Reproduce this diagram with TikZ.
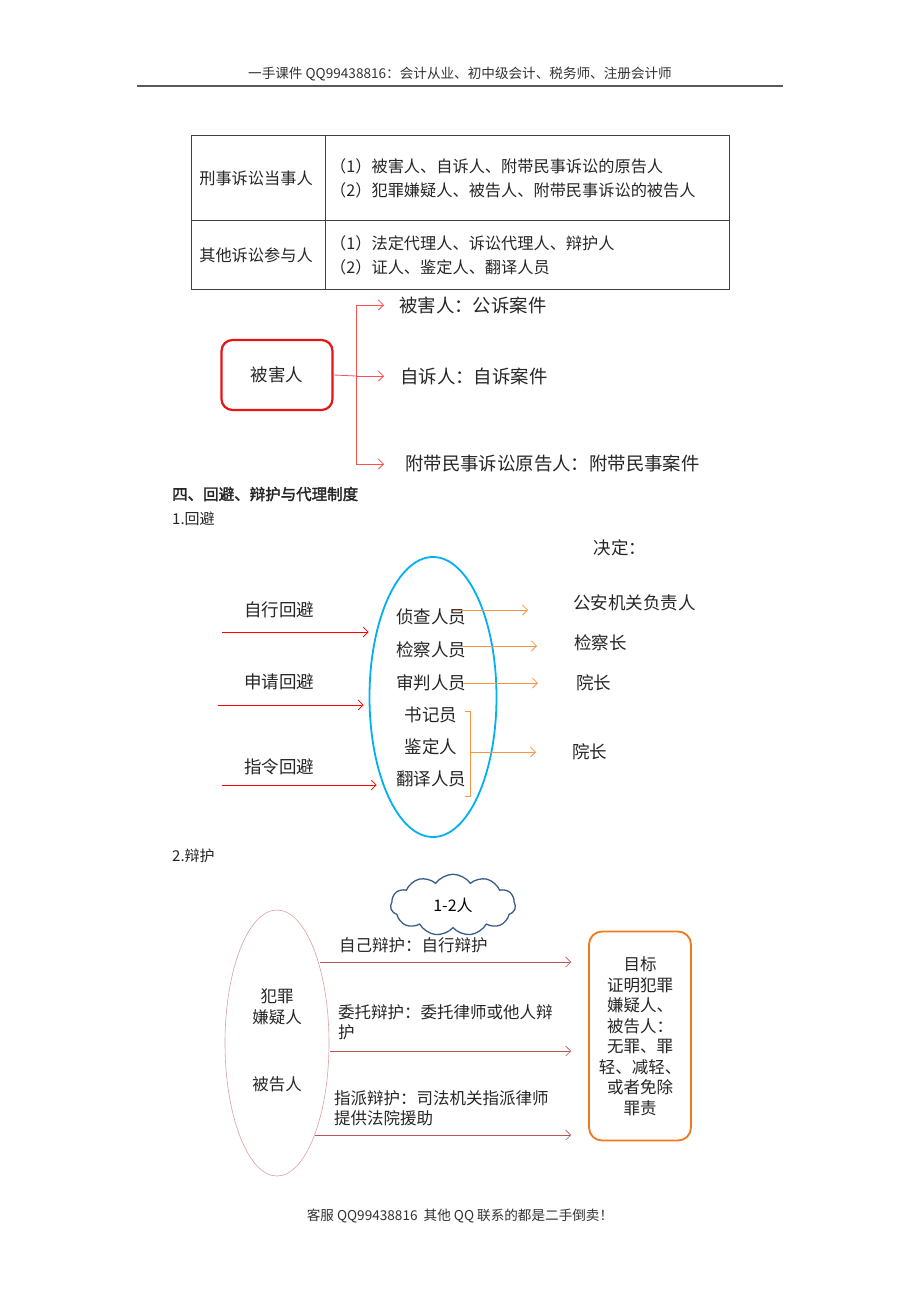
\documentclass[tikz,border=0pt]{standalone}
\usepackage{fontspec}
\setmainfont{Noto Sans CJK SC}[AutoFakeBold=2]
\usetikzlibrary{positioning,arrows.meta,shapes.geometric,shapes.symbols}
\definecolor{vred}{RGB}{230,20,20}
\definecolor{lred}{RGB}{250,80,80}
\definecolor{oline}{RGB}{247,150,70}
\definecolor{skyb}{RGB}{0,176,240}
\definecolor{cloudb}{RGB}{56,93,138}
\definecolor{pinkl}{RGB}{220,160,160}
\definecolor{brred}{RGB}{185,85,85}
\definecolor{boxor}{RGB}{240,120,30}

\begin{document}
\begin{tikzpicture}[x=1pt, y=-1pt, inner sep=0pt,
    >={Straight Barb[length=5pt,width=10pt]},
    txt/.style = {font=\fontsize{17.5}{21}\selectfont, text=black!85},
    vtxt/.style = {font=\fontsize{18.4}{22}\selectfont, text=black!85, anchor=west},
    tab/.style = {font=\fontsize{16.2}{19}\selectfont, text=black!85, anchor=west},
    small/.style = {font=\fontsize{13.6}{16}\selectfont, text=black!80},
    dtxt/.style = {font=\fontsize{16.5}{20.5}\selectfont, text=black!85, anchor=west, align=left},
    varr/.style = {draw=lred, line width=0.8pt, ->},
    larr/.style = {draw=red, line width=0.7pt, ->},
    oarr/.style = {draw=oline, line width=0.8pt, ->},
    darr/.style = {draw=brred, line width=0.6pt, ->}]
    \useasboundingbox[fill=white] (0,0) rectangle (920,1302);

    % header and footer
    \node[small] (hdr) at (460,74) {一手课件 QQ99438816：会计从业、初中级会计、税务师、注册会计师};
    \draw[line width=1.3pt, black!65] (137,86) -- (783,86);
    \node[small] (ftr) at (460,1216) {客服 QQ99438816 \ 其他 QQ 联系的都是二手倒卖！};

    % table
    \draw[black!75, line width=0.6pt] (191,135) rectangle (729,289);
    \draw[black!75, line width=0.6pt] (325,135) -- (325,289);
    \draw[black!75, line width=0.6pt] (191,220) -- (729,220);
    \node[tab, anchor=center] (c11) at (256,178) {刑事诉讼当事人};
    \node[tab, anchor=center] (c21) at (256,255) {其他诉讼参与人};
    \node[tab] (c12a) at (330,166) {（1）被害人、自诉人、附带民事诉讼的原告人};
    \node[tab] (c12b) at (330,190) {（2）犯罪嫌疑人、被告人、附带民事诉讼的被告人};
    \node[tab] (c22a) at (330,243) {（1）法定代理人、诉讼代理人、辩护人};
    \node[tab] (c22b) at (330,267) {（2）证人、鉴定人、翻译人员};

    % victim
    \node[txt, draw=vred, line width=2.2pt, rounded corners=11pt,
        minimum width=111pt, minimum height=70pt] (vic) at (277,375) {被害人};
    \coordinate (vj) at (356,376);
    \node[vtxt] (v1) at (399,305) {被害人：公诉案件};
    \node[vtxt] (v2) at (400,376) {自诉人：自诉案件};
    \node[vtxt] (v3) at (405,464) {附带民事诉讼原告人：附带民事案件};
    \draw[draw=lred, line width=0.8pt] (vic.east) -- (vj);
    \draw[varr] (vj) |- ([xshift=-15pt]v1.west);
    \draw[varr] (vj) -- ([xshift=-16pt]v2.west);
    \draw[varr] (vj) |- ([xshift=-21pt]v3.west);

    % section titles
    \node[dtxt, font=\fontsize{15.5}{19}\selectfont\bfseries] (sec) at (172,494) {四、回避、辩护与代理制度};
    \node[dtxt, font=\fontsize{15}{19}\selectfont] (s1) at (172,519) {1.回避};
    \node[dtxt, font=\fontsize{15}{19}\selectfont] (s2) at (172,856) {2.辩护};

    % recusal
    \node[draw=skyb, line width=1.8pt, ellipse, minimum width=127pt, minimum height=280pt] (ell) at (433,697) {};
    \node[txt] (dec) at (620,548) {决定：};
    \node[txt] (r1) at (279,610) {自行回避};
    \node[txt] (r2) at (279,682) {申请回避};
    \node[txt] (r3) at (279,767) {指令回避};
    \coordinate (a1) at (222,632);
    \coordinate (a2) at (218,705);
    \coordinate (a3) at (222,785);
    \draw[larr] (a1) -- (a1 -| ell.west);
    \draw[larr] (a2) -- ([xshift=-5pt]a2 -| ell.west);
    \draw[larr] (a3) -- ([xshift=8pt]a3 -| ell.west);
    \node[txt] (p1) at (431,617) {侦查人员};
    \node[txt] (p2) at (431,650) {检察人员};
    \node[txt] (p3) at (431,683) {审判人员};
    \node[txt] (p4) at (431,715) {书记员};
    \node[txt] (p5) at (431,747) {鉴定人};
    \node[txt] (p6) at (431,779) {翻译人员};
    \node[txt, anchor=west] (t1) at (573,603) {公安机关负责人};
    \node[txt, anchor=west] (t2) at (574,643) {检察长};
    \node[txt, anchor=west] (t3) at (576,683) {院长};
    \node[txt, anchor=west] (t4) at (572,752) {院长};
    \draw[oarr] ([xshift=-13pt,yshift=7pt]p1.east) -- ([xshift=-45pt]t1.west |- 0,610);
    \draw[oarr] ([xshift=-5pt,yshift=4pt]p2.east) -- ([xshift=-37pt]t2.west |- 0,646);
    \draw[oarr] ([xshift=-3pt]p3.east) -- ([xshift=-38pt]t3.west);
    \coordinate (bj) at (470,752);
    \draw[draw=oline, line width=0.8pt] (465,711) -- (470,711) -- (470,796) -- (465,796);
    \draw[oarr] (bj) -- ([xshift=-36pt]t4.west);

    % defence
    \node[draw=cloudb, line width=1.3pt, cloud, cloud puffs=11, cloud puff arc=110,
        minimum width=125pt, minimum height=52pt, font=\fontsize{16}{19}\selectfont] (cl) at (453,905) {1-2人};
    \node[draw=pinkl, line width=0.6pt, ellipse, minimum width=104pt, minimum height=266pt] (pe) at (277,1043) {};
    \node[dtxt, anchor=center, align=center] (sus) at (277,1007) {犯罪\\嫌疑人};
    \node[dtxt, anchor=center] (def) at (277,1084) {被告人};
    \node[dtxt, draw=boxor, line width=1.8pt, rounded corners=13pt, anchor=center, align=center,
        minimum width=102pt, minimum height=209pt] (goal) at (640,1036)
        {目标\\证明犯罪\\嫌疑人、\\被告人：\\无罪、罪\\轻、减轻、\\或者免除\\罪责};
    \node[dtxt] (d1) at (339,945) {自己辩护：自行辩护};
    \node[dtxt] (d2) at (338,1022) {委托辩护：委托律师或他人辩\\护};
    \node[dtxt] (d3) at (334,1108) {指派辩护：司法机关指派律师\\提供法院援助};
    \coordinate (e1) at (320,962);
    \coordinate (e2) at (330,1051);
    \coordinate (e3) at (315,1135);
    \draw[darr] (e1) -- ([xshift=-17pt]e1 -| goal.west);
    \draw[darr] (e2) -- ([xshift=-17pt]e2 -| goal.west);
    \draw[darr] (e3) -- ([xshift=-17pt]e3 -| goal.west);
\end{tikzpicture}
\end{document}
